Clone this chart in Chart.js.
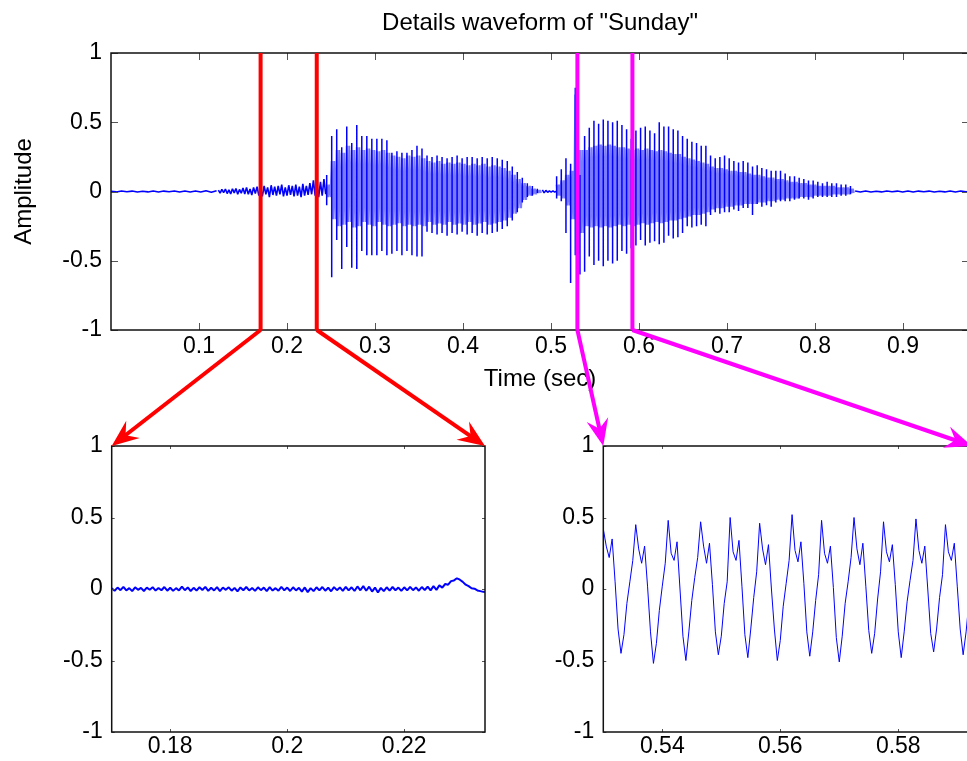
<!DOCTYPE html>
<html>
<head>
<meta charset="utf-8">
<title>Details waveform of "Sunday"</title>
<script src="https://cdn.jsdelivr.net/npm/chart.js@4.4.1/dist/chart.umd.min.js"></script>
<style>
  html, body { margin: 0; padding: 0; background: #fff; }
  body { width: 967px; height: 761px; overflow: hidden; position: relative; }
  .panel { position: absolute; }
  #overlay { position: absolute; left: 0; top: 0; pointer-events: none; }
</style>
</head>
<body>
<div class="panel" style="left:0;top:0;width:980px;height:400px"><canvas id="topChart"></canvas></div>
<div class="panel" style="left:0;top:420px;width:500px;height:341px"><canvas id="leftChart"></canvas></div>
<div class="panel" style="left:500px;top:420px;width:500px;height:341px"><canvas id="rightChart"></canvas></div>
<canvas id="overlay" width="967" height="761"></canvas>
<script>
// ---- values ----
var topXTicks = [0.1, 0.2, 0.3, 0.4, 0.5, 0.6, 0.7, 0.8, 0.9];
var ampTicks = [-1, -0.5, 0, 0.5, 1];
var leftXTicks = [0.18, 0.2, 0.22];
var rightXTicks = [0.54, 0.56, 0.58];

// zoomed windows (sec)
var redWindow = [0.17, 0.2338];
var magentaWindow = [0.53, 0.5925];

// silent / noisy stretches of the top trace: start (s), step (s), amplitudes
var noiseStart = [0, 0.122, 0.4902, 0.8456];
var noiseStep = [0.006, 0.002, 0.002, 0.006];
var silenceHead = [0.002, -0.003, 0.004, -0.002, 0.003, -0.004, 0.002, -0.003, 0.004, -0.003, 0.003,
  -0.002, 0.004, -0.004, 0.003, -0.003, 0.004, -0.004, 0.005, -0.005, 0.006];
var onsetNoise = [0.010, -0.012, 0.015, -0.008, 0.018, -0.015, 0.012, -0.018, 0.020, -0.010,
  0.022, -0.020, 0.015, -0.012, 0.025, -0.018, 0.030, -0.020, 0.018, -0.025,
  0.030, -0.015, 0.035, -0.030, 0.020, -0.035, 0.040, -0.020, 0.030, -0.040,
  0.045, -0.025, 0.035, -0.030, 0.040, -0.020, 0.050, -0.035, 0.030, -0.030,
  0.045, -0.025, 0.040, -0.035, 0.050, -0.030, 0.035, -0.040, 0.055, -0.030,
  0.040, -0.025, 0.060, -0.020, 0.080, -0.030, 0.050, -0.040, 0.070, -0.030,
  0.090, -0.020];
var gapNoise = [0.012, -0.010, 0.008, -0.006, 0.005, -0.004, 0.004, -0.005, 0.003];
var silenceTail = [0.004, -0.003, 0.003, -0.004, 0.002, -0.003, 0.004, -0.002, 0.003, -0.003, 0.004,
  -0.004, 0.003, -0.002, 0.003, -0.004, 0.002, -0.003, 0.004, -0.003, 0.003, -0.002, 0.002];

// voiced stretches ("Sun" and "day"), one value per pitch period
var voicedStart = [0.2451, 0.5064];
var voicedPeriod = [0.0057, 0.0053];
var sunPeak = [0.12, 0.40, 0.45, 0.32, 0.47, 0.35, 0.48, 0.40, 0.40, 0.38, 0.38, 0.38, 0.37, 0.28, 0.29,
  0.28, 0.28, 0.30, 0.33, 0.31, 0.26, 0.25, 0.26, 0.25, 0.24, 0.25, 0.26, 0.24, 0.25, 0.25,
  0.24, 0.25, 0.24, 0.25, 0.24, 0.23, 0.22, 0.18, 0.14, 0.10, 0.06, 0.04, 0.02];
var sunTrough = [-0.10, -0.62, -0.35, -0.56, -0.40, -0.55, -0.56, -0.43, -0.46, -0.46, -0.46, -0.43, -0.46,
  -0.45, -0.43, -0.46, -0.43, -0.46, -0.47, -0.47, -0.29, -0.30, -0.31, -0.30, -0.32, -0.30,
  -0.31, -0.29, -0.31, -0.30, -0.32, -0.30, -0.31, -0.30, -0.29, -0.27, -0.25, -0.21, -0.15,
  -0.08, -0.04, -0.03, -0.01];
var sunHi = [0.05, 0.22, 0.30, 0.28, 0.33, 0.30, 0.32, 0.30, 0.31, 0.30, 0.29, 0.30, 0.28, 0.26, 0.25,
  0.24, 0.26, 0.25, 0.26, 0.24, 0.22, 0.21, 0.22, 0.20, 0.21, 0.20, 0.21, 0.20, 0.19, 0.20,
  0.19, 0.20, 0.18, 0.19, 0.18, 0.17, 0.15, 0.12, 0.09, 0.06, 0.04, 0.02, 0.01];
var sunLo = [-0.04, -0.20, -0.25, -0.24, -0.22, -0.26, -0.25, -0.22, -0.24, -0.25, -0.22, -0.24, -0.25,
  -0.24, -0.23, -0.25, -0.24, -0.25, -0.24, -0.25, -0.22, -0.24, -0.23, -0.24, -0.22, -0.24,
  -0.23, -0.24, -0.22, -0.24, -0.23, -0.22, -0.24, -0.23, -0.22, -0.21, -0.19, -0.16, -0.12,
  -0.06, -0.03, -0.02, -0.01];
var dayPeak = [0.11, 0.16, 0.24, 0.20, 0.75, 0.12, 0.40, 0.46,
  0.51, 0.49, 0.52, 0.51, 0.50, 0.51, 0.48, 0.45,
  0.38, 0.44, 0.46, 0.47, 0.44, 0.42, 0.50, 0.47,
  0.47, 0.45, 0.44, 0.40, 0.38, 0.36, 0.35, 0.33,
  0.33, 0.26, 0.24, 0.25, 0.26, 0.24, 0.22, 0.21,
  0.22, 0.21, 0.18, 0.19, 0.17, 0.16, 0.15, 0.15,
  0.15, 0.13, 0.11, 0.11, 0.10, 0.09, 0.08, 0.08,
  0.07, 0.06, 0.07, 0.06, 0.06, 0.05, 0.05, 0.04];
var dayTrough = [-0.05, -0.07, -0.30, -0.66, -0.46, -0.60, -0.58, -0.47,
  -0.53, -0.50, -0.54, -0.50, -0.52, -0.50, -0.43, -0.45,
  -0.41, -0.39, -0.35, -0.39, -0.37, -0.36, -0.38, -0.37,
  -0.32, -0.34, -0.33, -0.30, -0.25, -0.26, -0.25, -0.24,
  -0.25, -0.17, -0.15, -0.16, -0.15, -0.15, -0.13, -0.14,
  -0.12, -0.12, -0.17, -0.09, -0.11, -0.10, -0.11, -0.08,
  -0.07, -0.07, -0.07, -0.06, -0.05, -0.05, -0.06, -0.05,
  -0.04, -0.04, -0.04, -0.04, -0.04, -0.03, -0.03, -0.02];
var dayHi = [0.05, 0.08, 0.12, 0.15, 0.70, 0.30, 0.30, 0.32,
  0.33, 0.34, 0.33, 0.34, 0.33, 0.32, 0.32, 0.31,
  0.30, 0.31, 0.30, 0.31, 0.30, 0.29, 0.30, 0.29,
  0.28, 0.27, 0.27, 0.25, 0.24, 0.23, 0.22, 0.21,
  0.20, 0.18, 0.17, 0.17, 0.16, 0.15, 0.15, 0.14,
  0.14, 0.13, 0.12, 0.12, 0.11, 0.10, 0.10, 0.09,
  0.09, 0.08, 0.07, 0.07, 0.06, 0.06, 0.05, 0.05,
  0.04, 0.04, 0.04, 0.04, 0.03, 0.03, 0.03, 0.02];
var dayLo = [-0.03, -0.05, -0.10, -0.20, -0.45, -0.30, -0.25, -0.26,
  -0.25, -0.26, -0.25, -0.26, -0.25, -0.24, -0.25, -0.24,
  -0.25, -0.24, -0.23, -0.24, -0.23, -0.22, -0.23, -0.22,
  -0.21, -0.21, -0.20, -0.19, -0.18, -0.17, -0.17, -0.16,
  -0.15, -0.13, -0.12, -0.12, -0.11, -0.11, -0.10, -0.10,
  -0.09, -0.09, -0.09, -0.08, -0.08, -0.07, -0.07, -0.06,
  -0.06, -0.05, -0.05, -0.05, -0.04, -0.04, -0.04, -0.03,
  -0.03, -0.03, -0.03, -0.02, -0.02, -0.02, -0.02, -0.01];

// bottom left: 0.17 s onwards, every 0.5 ms
var leftStep = 0.0005;
var leftAmp = [0.005, -0.012, 0.010, -0.008, 0.015, -0.010, 0.006, -0.015, 0.012, -0.006,
  0.008, -0.014, 0.010, -0.005, 0.013, -0.011, 0.007, -0.009, 0.014, -0.012,
  0.009, -0.013, 0.006, -0.010, 0.016, -0.008, 0.011, -0.014, 0.008, -0.011,
  0.012, -0.007, 0.015, -0.013, 0.009, -0.010, 0.013, -0.015, 0.010, -0.006,
  0.012, -0.012, 0.008, -0.016, 0.011, -0.009, 0.014, -0.010, 0.007, -0.013,
  0.012, -0.008, 0.010, -0.015, 0.013, -0.011, 0.006, -0.012, 0.015, -0.009,
  0.010, -0.014, 0.012, -0.010, 0.008, -0.018, 0.011, -0.022, 0.006, -0.015,
  0.012, -0.010, 0.014, -0.012, 0.009, -0.016, 0.013, -0.008, 0.011, -0.013,
  0.015, -0.010, 0.012, -0.014, 0.018, -0.009, 0.020, -0.012, 0.016, -0.018,
  0.010, -0.025, 0.008, -0.015, 0.012, -0.011, 0.014, -0.009, 0.010, -0.013,
  0.012, -0.010, 0.015, -0.008, 0.011, -0.012, 0.014, -0.007, 0.016, -0.010,
  0.020, -0.006, 0.025, 0.010, 0.035, 0.030, 0.055, 0.060, 0.075, 0.065,
  0.050, 0.030, 0.020, 0.005, 0.002, -0.010, -0.015, -0.020, -0.022];

// bottom right: 0.53 s onwards, every 0.5 ms
var rightStep = 0.0005;
var rightAmp = [0.42, 0.30, 0.22, 0.35, 0.05, -0.28, -0.45, -0.32, -0.10, 0.05,
  0.20, 0.45, 0.28, 0.18, 0.30, 0.02, -0.30, -0.52, -0.38, -0.15, 0.02,
  0.18, 0.48, 0.25, 0.20, 0.33, 0.00, -0.33, -0.50, -0.30, -0.08,
  0.08, 0.22, 0.47, 0.30, 0.18, 0.32, 0.03, -0.30, -0.46, -0.33, -0.10,
  0.05, 0.50, 0.26, 0.20, 0.34, 0.02, -0.32, -0.48, -0.28, -0.06,
  0.12, 0.46, 0.28, 0.17, 0.31, 0.00, -0.28, -0.50, -0.36, -0.12,
  0.04, 0.20, 0.52, 0.27, 0.19, 0.33, 0.04, -0.30, -0.47, -0.30, -0.08,
  0.10, 0.48, 0.25, 0.18, 0.30, 0.01, -0.34, -0.51, -0.33, -0.10,
  0.05, 0.22, 0.50, 0.28, 0.17, 0.32, 0.02, -0.29, -0.45, -0.31, -0.07,
  0.12, 0.47, 0.26, 0.19, 0.31, 0.03, -0.30, -0.48, -0.30, -0.09,
  0.06, 0.20, 0.49, 0.27, 0.18, 0.30, 0.00, -0.31, -0.44, -0.28, -0.06,
  0.10, 0.45, 0.26, 0.20, 0.32, 0.02, -0.28, -0.46, -0.30, -0.08,
  0.12, 0.48, 0.27, 0.19, 0.30, 0.05];

// ---- build point lists ----
function regular(start, step, values) {
  return values.map(function(v, i) { return { x: start + i * step, y: v }; });
}

var noisePoints = [];
[silenceHead, onsetNoise, gapNoise, silenceTail].forEach(function(vals, s) {
  var pts = regular(noiseStart[s], noiseStep[s], vals);
  noisePoints.push.apply(noisePoints, pts);
  noisePoints.push({ x: pts[pts.length - 1].x, y: null });
});

var bandPoints = [];
var spikePoints = [];
[[sunPeak, sunTrough, sunHi, sunLo], [dayPeak, dayTrough, dayHi, dayLo]].forEach(function(seg, s) {
  var pk = seg[0], tr = seg[1], hi = seg[2], lo = seg[3];
  var p = voicedPeriod[s];
  for (var k = 0; k < pk.length; k++) {
    var t = voicedStart[s] + k * p;
    bandPoints.push({ x: t, y: hi[k] }, { x: t + p / 4, y: lo[k] },
                    { x: t + p / 2, y: hi[k] }, { x: t + 3 * p / 4, y: lo[k] });
    spikePoints.push({ x: t, y: pk[k] }, { x: t, y: tr[k] }, { x: t, y: null });
  }
  bandPoints.push({ x: voicedStart[s] + pk.length * p, y: null });
});

// ---- matlab style box, inward ticks and title ----
var matlabAxes = {
  id: 'matlabAxes',
  afterDatasetsDraw: function(chart, args, opts) {
    var ctx = chart.ctx, a = chart.chartArea, sx = chart.scales.x, sy = chart.scales.y;
    var len = opts.tick || 5;
    ctx.save();
    ctx.lineWidth = 1;
    ctx.strokeStyle = '#555';
    ctx.beginPath();
    sx.ticks.forEach(function(t) {
      var px = Math.round(sx.getPixelForValue(t.value)) + 0.5;
      ctx.moveTo(px, a.bottom); ctx.lineTo(px, a.bottom - len);
      ctx.moveTo(px, a.top); ctx.lineTo(px, a.top + len);
    });
    sy.ticks.forEach(function(t) {
      var py = Math.round(sy.getPixelForValue(t.value)) + 0.5;
      ctx.moveTo(a.left, py); ctx.lineTo(a.left + len, py);
      ctx.moveTo(a.right, py); ctx.lineTo(a.right - len, py);
    });
    ctx.stroke();
    ctx.strokeStyle = '#111';
    ctx.lineWidth = 1.5;
    ctx.strokeRect(a.left, a.top, a.right - a.left, a.bottom - a.top);
    ctx.restore();
  },
  afterDraw: function(chart, args, opts) {
    if (!opts.title) return;
    var ctx = chart.ctx, a = chart.chartArea;
    ctx.save();
    ctx.font = '24px "Liberation Sans", Arial, sans-serif';
    ctx.fillStyle = '#000';
    ctx.textAlign = 'center';
    ctx.textBaseline = 'alphabetic';
    ctx.fillText(opts.title, (a.left + a.right) / 2, 30);
    ctx.restore();
  }
};

Chart.defaults.font.family = '"Liberation Sans", Arial, Helvetica, sans-serif';
Chart.defaults.color = '#000';

function axis(min, max, ticks, pad, fit, horizontal) {
  return {
    type: 'linear', min: min, max: max,
    grid: { display: false, drawTicks: false },
    border: { display: false },
    afterBuildTicks: function(s) { s.ticks = ticks.map(function(v) { return { value: v }; }); },
    afterFit: function(s) { if (horizontal) s.height = fit; else s.width = fit; },
    ticks: { padding: pad, autoSkip: false, maxRotation: 0, font: { size: 23 },
             callback: function(v) { return String(v); } }
  };
}

function baseOptions(padding, tickLen, title) {
  return {
    responsive: true,
    maintainAspectRatio: false,
    animation: false,
    events: [],
    layout: { padding: padding },
    elements: { point: { radius: 0 }, line: { tension: 0, borderJoinStyle: 'bevel' } },
    plugins: { legend: { display: false }, tooltip: { enabled: false },
               matlabAxes: { tick: tickLen, title: title } }
  };
}

// top panel
var topOpts = baseOptions({ left: 0, right: 11, top: 53, bottom: 0 }, 7, 'Details waveform of "Sunday"');
topOpts.scales = {
  x: axis(0, 0.975, topXTicks, 3, 70, true),
  y: axis(-1, 1, ampTicks, 9, 111, false)
};
topOpts.scales.x.title = { display: true, text: 'Time (sec)', font: { size: 24 }, padding: { top: 0, bottom: 6 } };
topOpts.scales.y.title = { display: true, text: 'Amplitude', font: { size: 24 }, padding: { top: 10, bottom: 0 } };

var topChart = new Chart(document.getElementById('topChart'), {
  type: 'line',
  data: { datasets: [
    { data: spikePoints, borderColor: '#0000ff', borderWidth: 1.5, spanGaps: false },
    { data: bandPoints, borderColor: '#7b7bff', borderWidth: 2, spanGaps: false },
    { data: noisePoints, borderColor: '#0000ff', borderWidth: 1.6, spanGaps: false }
  ] },
  options: topOpts,
  plugins: [matlabAxes]
});

// bottom left panel
var leftOpts = baseOptions({ left: 0, right: 15, top: 26, bottom: 0 }, 3, null);
leftOpts.scales = {
  x: axis(redWindow[0], redWindow[1], leftXTicks, 1, 29, true),
  y: axis(-1, 1, ampTicks, 9, 111.7, false)
};
var leftChart = new Chart(document.getElementById('leftChart'), {
  type: 'line',
  data: { datasets: [
    { data: regular(redWindow[0], leftStep, leftAmp), borderColor: '#0000ff', borderWidth: 2 }
  ] },
  options: leftOpts,
  plugins: [matlabAxes]
});

// bottom right panel
var rightOpts = baseOptions({ left: 0, right: 28, top: 26, bottom: 0 }, 3, null);
rightOpts.scales = {
  x: axis(magentaWindow[0], magentaWindow[1], rightXTicks, 1, 29, true),
  y: axis(-1, 1, ampTicks, 9, 103.3, false)
};
var rightChart = new Chart(document.getElementById('rightChart'), {
  type: 'line',
  data: { datasets: [
    { data: regular(magentaWindow[0], rightStep, rightAmp), borderColor: '#0000ff', borderWidth: 1 }
  ] },
  options: rightOpts,
  plugins: [matlabAxes]
});

// ---- zoom markers and arrows ----
var ov = document.getElementById('overlay').getContext('2d');

function arrow(ctx, x1, y1, x2, y2, color) {
  var ang = Math.atan2(y2 - y1, x2 - x1);
  var ux = Math.cos(ang), uy = Math.sin(ang);
  var L = 27, W = 11;
  ctx.strokeStyle = color;
  ctx.fillStyle = color;
  ctx.lineWidth = 4;
  ctx.beginPath();
  ctx.moveTo(x1, y1);
  ctx.lineTo(x2 - ux * L * 0.6, y2 - uy * L * 0.6);
  ctx.stroke();
  ctx.beginPath();
  ctx.moveTo(x2, y2);
  ctx.lineTo(x2 - ux * L - uy * W, y2 - uy * L + ux * W);
  ctx.lineTo(x2 - ux * L * 0.65, y2 - uy * L * 0.65);
  ctx.lineTo(x2 - ux * L + uy * W, y2 - uy * L - ux * W);
  ctx.closePath();
  ctx.fill();
}

var topArea = topChart.chartArea;
[
  { color: '#ff0000', win: redWindow, chart: leftChart, left: 0, top: 420 },
  { color: '#ff00ff', win: magentaWindow, chart: rightChart, left: 500, top: 420 }
].forEach(function(m) {
  var a = m.chart.chartArea;
  m.win.forEach(function(v, i) {
    var x = topChart.scales.x.getPixelForValue(v);
    ov.strokeStyle = m.color;
    ov.lineWidth = 4;
    ov.beginPath();
    ov.moveTo(x, topArea.top);
    ov.lineTo(x, topArea.bottom);
    ov.stroke();
    var tipX = m.left + (i === 0 ? a.left : a.right);
    arrow(ov, x, topArea.bottom, tipX, m.top + a.top, m.color);
  });
});
</script>
</body>
</html>
